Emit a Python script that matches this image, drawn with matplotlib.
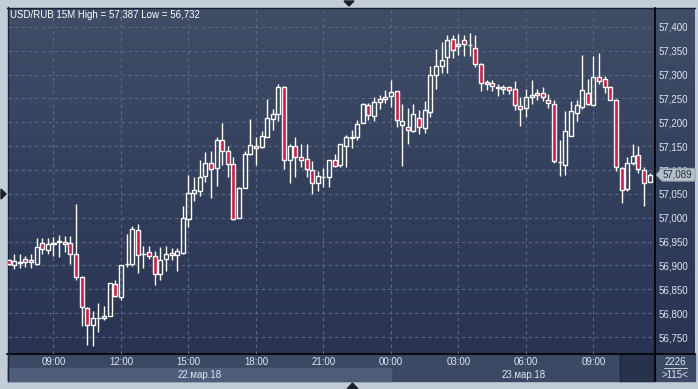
# USD/RUB 15 minute candles, 22-23 March 2018
import numpy as np
import matplotlib
matplotlib.use("Agg")
import matplotlib.pyplot as plt
from matplotlib.patches import Rectangle, Polygon

plt.rcParams['font.family'] = ['Liberation Sans', 'DejaVu Sans']

# candle data, one entry per 15 minutes starting at 07:00 on 22 March
opens = [56911, 56901, 56906, 56913, 56908, 56904, 56948, 56932, 56948, 56950,
         56950, 56948, 56924, 56875, 56811, 56776, 56789, 56790, 56795, 56861,
         56833, 56903, 56903, 56974, 56924, 56928, 56920, 56883, 56913, 56926,
         56922, 56927, 56997, 57052, 57055, 57087, 57115, 57104, 57163, 57139,
         57113, 57000, 57063, 57134, 57150, 57148, 57170, 57207, 57218, 57273,
         57121, 57151, 57128, 57123, 57100, 57073, 57085, 57085, 57120, 57111,
         57151, 57168, 57169, 57198, 57237, 57213, 57242, 57249, 57256, 57265,
         57195, 57190, 57182, 57209, 57188, 57221, 57300, 57319, 57337, 57375,
         57360, 57373, 57362, 57356, 57323, 57285, 57282, 57272, 57270, 57273,
         57270, 57235, 57230, 57252, 57262, 57262, 57247, 57239, 57116, 57111,
         57171, 57219, 57233, 57262, 57237, 57294, 57291, 57275, 57247, 57105,
         57060, 57114, 57132, 57100, 57074]
highs = [56913, 56923, 56923, 56920, 56923, 56958, 56958, 56958, 56959, 56964,
         56962, 56962, 57028, 56878, 56813, 56804, 56821, 56815, 56864, 56869,
         56902, 56966, 56983, 56986, 56941, 56941, 56930, 56938, 56941, 56936,
         56937, 57025, 57090, 57086, 57122, 57137, 57139, 57170, 57198, 57151,
         57128, 57064, 57140, 57207, 57170, 57181, 57248, 57227, 57281, 57276,
         57155, 57169, 57154, 57154, 57118, 57099, 57104, 57122, 57134, 57155,
         57174, 57183, 57204, 57240, 57240, 57254, 57258, 57267, 57288, 57265,
         57238, 57230, 57238, 57226, 57244, 57319, 57354, 57368, 57383, 57383,
         57386, 57382, 57387, 57382, 57324, 57288, 57288, 57281, 57279, 57277,
         57286, 57254, 57270, 57288, 57269, 57275, 57260, 57247, 57162, 57223,
         57244, 57246, 57340, 57291, 57338, 57346, 57298, 57277, 57249, 57106,
         57128, 57155, 57151, 57106, 57093]
lows = [56902, 56892, 56894, 56897, 56895, 56900, 56924, 56924, 56920, 56918,
        56928, 56904, 56869, 56773, 56734, 56732, 56760, 56785, 56795, 56833,
        56828, 56897, 56898, 56885, 56895, 56913, 56860, 56870, 56889, 56911,
        56889, 56925, 56980, 57036, 57046, 57074, 57041, 57067, 57111, 57085,
        56995, 57000, 57063, 57132, 57110, 57146, 57170, 57184, 57203, 57102,
        57072, 57085, 57107, 57085, 57050, 57057, 57064, 57064, 57106, 57106,
        57106, 57146, 57163, 57198, 57204, 57203, 57228, 57240, 57232, 57191,
        57109, 57154, 57179, 57176, 57177, 57211, 57270, 57303, 57303, 57335,
        57340, 57338, 57338, 57316, 57266, 57267, 57265, 57256, 57259, 57260,
        57226, 57193, 57211, 57239, 57246, 57245, 57230, 57114, 57088, 57090,
        57171, 57203, 57228, 57237, 57237, 57281, 57261, 57246, 57098, 57030,
        57055, 57111, 57093, 57025, 57074]
closes = [56903, 56909, 56907, 56907, 56912, 56939, 56934, 56945, 56944, 56951,
          56945, 56924, 56875, 56812, 56775, 56790, 56790, 56794, 56863, 56836,
          56902, 56904, 56976, 56922, 56925, 56920, 56882, 56911, 56924, 56921,
          56931, 56999, 57052, 57058, 57086, 57115, 57102, 57163, 57140, 57113,
          56997, 57063, 57134, 57153, 57147, 57172, 57210, 57218, 57273, 57121,
          57151, 57127, 57121, 57102, 57073, 57087, 57086, 57120, 57108, 57155,
          57170, 57169, 57197, 57239, 57216, 57243, 57249, 57254, 57263, 57205,
          57202, 57184, 57218, 57190, 57226, 57300, 57317, 57331, 57372, 57352,
          57365, 57365, 57363, 57323, 57283, 57281, 57277, 57275, 57275, 57268,
          57237, 57228, 57253, 57258, 57258, 57253, 57240, 57119, 57117, 57181,
          57223, 57237, 57268, 57239, 57294, 57287, 57273, 57247, 57106, 57058,
          57115, 57130, 57102, 57072, 57089]

price_ticks = [56750, 56800, 56850, 56900, 56950, 57000, 57050, 57100,
               57150, 57200, 57250, 57300, 57350, 57400]
time_idx = [8, 20, 32, 44, 56, 68, 80, 92, 104]
time_labels = ['09:00', '12:00', '15:00', '18:00', '21:00',
               '00:00', '03:00', '06:00', '09:00']
day_labels = ['22.мар.18', '23.мар.18']
last_price = 57089

W, H = 698, 389
UP_COL = '#ffffff'
DOWN_COL = '#e3123d'
TXT_COL = '#dce6f3'


def px_rect(x0, y0, x1, y1):
    """pixel box (top-left origin) -> figure fraction rect"""
    return [x0 / W, 1 - y1 / H, (x1 - x0) / W, (y1 - y0) / H]


def price_fmt(v):
    return '{:,}'.format(int(v))


fig = plt.figure(figsize=(W / 100, H / 100), dpi=100)
fig.patch.set_facecolor('#c3cdd8')

# background layer in pixel coordinates
bg = fig.add_axes([0, 0, 1, 1])
bg.set_xlim(0, W)
bg.set_ylim(H, 0)
bg.axis('off')

top_c = np.array([63, 77, 103]) / 255
bot_c = np.array([40, 52, 82]) / 255
t = np.linspace(0, 1, 256)[:, None, None]
grad = top_c * (1 - t) + bot_c * t
bg.imshow(grad, extent=[8, 695, 354, 8], aspect='auto', zorder=0)

# bottom time / date rows
bg.add_patch(Rectangle((8, 354), 687, 27, color='#3b4965', zorder=1))
bg.add_patch(Rectangle((8, 368), 383, 13, color='#4d5c78', zorder=1))
bg.add_patch(Rectangle((620, 354), 35, 27, color='#27324d', zorder=2))
bg.plot([619.5, 619.5], [354, 381], color='#1e2840', lw=1, zorder=3)
bg.plot([7, 695], [354, 354], color='black', lw=1.2, zorder=3)
bg.plot([7.5, 7.5], [7, 381], color='#1a2236', lw=1, zorder=3)
bg.plot([7, 695], [7.5, 7.5], color='#1a2236', lw=1, zorder=3)
bg.plot([655, 655], [8, 381], color='black', lw=1.2, zorder=3)

bg.text(200, 375, day_labels[0], color=TXT_COL, fontsize=7,
        ha='center', va='center')
bg.text(524, 375, day_labels[1], color=TXT_COL, fontsize=7,
        ha='center', va='center')
bg.text(675, 362, '2226', color=TXT_COL, fontsize=7, ha='center', va='center')
bg.plot([664, 687], [368, 368], color=TXT_COL, lw=0.6)
bg.text(675, 375, '>115<', color=TXT_COL, fontsize=7, ha='center', va='center')
bg.text(10, 15, 'USD/RUB 15M High = 57,387 Low = 56,732', color='white',
        fontsize=7, ha='left', va='center')

# main candle axes
ax = fig.add_axes(px_rect(8, 8, 655, 354))
ax.set_facecolor('none')
n = len(opens)
x = np.arange(n)
o = np.array(opens)
c = np.array(closes)
hi = np.array(highs)
lo = np.array(lows)
body_top = np.maximum(o, c)
body_bot = np.minimum(o, c)

ax.vlines(x, body_top, hi, color='white', lw=1, zorder=3)
ax.vlines(x, lo, body_bot, color='white', lw=1, zorder=3)
up = c >= o
heights = np.maximum(body_top - body_bot, 0.5)
ax.bar(x[up], heights[up], bottom=body_bot[up], width=0.72,
       facecolor='none', edgecolor=UP_COL, linewidth=1, zorder=4)
ax.bar(x[~up], heights[~up], bottom=body_bot[~up], width=0.72,
       facecolor=DOWN_COL, edgecolor='white', linewidth=1, zorder=4)

ax.set_xlim(-0.09, 114.95)
ax.set_ylim(56714.5, 57439.5)

ax.set_yticks(price_ticks)
ax.set_yticklabels([price_fmt(v) for v in price_ticks])
ax.yaxis.tick_right()
ax.set_xticks(time_idx)
ax.set_xticklabels(time_labels)
ax.tick_params(axis='both', length=0, labelsize=7, labelcolor=TXT_COL)
ax.tick_params(axis='y', pad=2.5)
ax.tick_params(axis='x', pad=2.5)
ax.grid(True, color='#5a6a88', lw=0.8, linestyle=(0, (3, 3)), zorder=1)
ax.set_axisbelow(True)
for s in ax.spines.values():
    s.set_visible(False)

# overlay: last-price tag and little arrows
ov = fig.add_axes([0, 0, 1, 1])
ov.set_xlim(0, W)
ov.set_ylim(H, 0)
ov.axis('off')
ov.patch.set_alpha(0)
tag_y = 193.3 - (last_price - 57050) / 2.1
ov.add_patch(Polygon([(656, tag_y), (662, tag_y - 6.5), (695, tag_y - 6.5),
                      (695, tag_y + 6.5), (662, tag_y + 6.5)],
                     closed=True, facecolor='#b7bfc8', edgecolor='#8c96a2',
                     lw=0.6))
ov.text(663, tag_y, price_fmt(last_price), color='#1f2b45', fontsize=7,
        ha='left', va='center')
ov.add_patch(Polygon([(344, 1), (354, 1), (349, 6)], closed=True, color='#1a1e26'))
ov.add_patch(Polygon([(347, 389), (358, 389), (352.5, 383)], closed=True,
                     color='#1a1e26'))
ov.add_patch(Polygon([(1, 189), (1, 199), (6, 194)], closed=True, color='#1a1e26'))

plt.savefig('out.png', dpi=100, facecolor=fig.get_facecolor())
